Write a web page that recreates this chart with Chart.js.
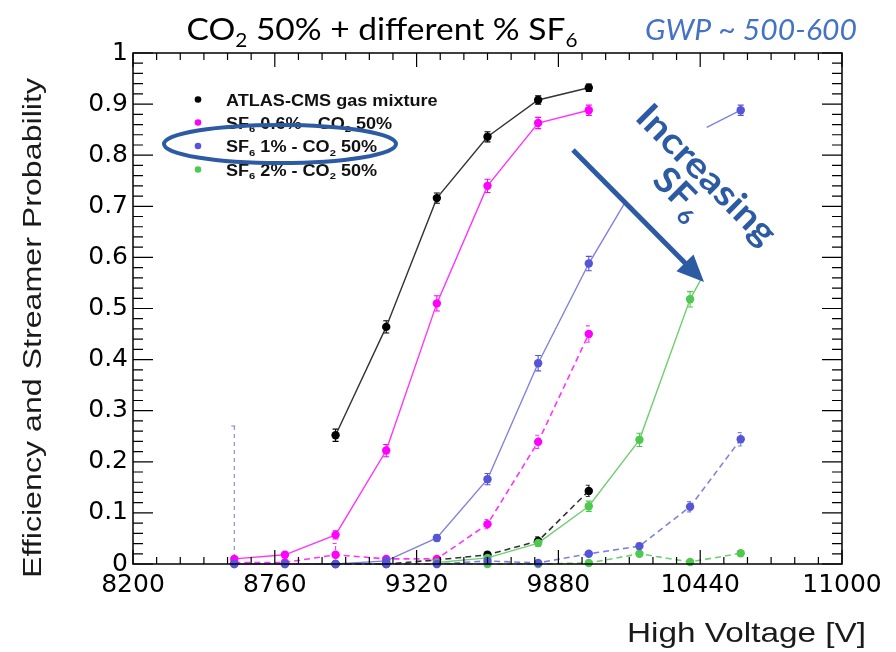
<!DOCTYPE html>
<html>
<head>
<meta charset="utf-8">
<script src="https://cdn.jsdelivr.net/npm/chart.js@4.4.1/dist/chart.umd.min.js"></script>
<style>
  html, body { margin: 0; padding: 0; background: #ffffff; }
  canvas { display: block; }
</style>
</head>
<body>
<canvas id="c" width="896" height="652"></canvas>
<script>
// ---- data -------------------------------------------------------------
const voltages = [8600, 8800, 9000, 9200, 9400, 9600, 9800, 10000, 10200, 10400, 10600];

// efficiency (solid) and streamer probability (dashed) per gas mixture
const atlasEff       = [null, null, 0.252, 0.464, 0.716, 0.836, 0.908, 0.932, null, null, null];
const atlasEffErr    = [null, null, 0.012, 0.012, 0.010, 0.010, 0.008, 0.007, null, null, null];
const atlasStr       = [null, null, 0.000, 0.000, 0.008, 0.018, 0.045, 0.143, null, null, null];
const atlasStrErr    = [null, null, 0.002, 0.002, 0.004, 0.006, 0.008, 0.011, null, null, null];

const sf06Eff        = [0.010, 0.018, 0.057, 0.222, 0.510, 0.740, 0.863, 0.888, null, null, null];
const sf06EffErr     = [0.004, 0.005, 0.008, 0.012, 0.015, 0.013, 0.011, 0.010, null, null, null];
const sf06Str        = [0.003, 0.003, 0.018, 0.010, 0.010, 0.078, 0.239, 0.450, null, null, null];
const sf06StrErr     = [0.003, 0.003, 0.022, 0.004, 0.004, 0.009, 0.013, 0.016, null, null, null];

const sf1Eff         = [0.000, 0.000, 0.000, 0.006, 0.051, 0.166, 0.393, 0.588, 0.755, 0.838, 0.888];
const sf1EffErr      = [0.002, 0.002, 0.002, 0.003, 0.006, 0.011, 0.015, 0.014, 0.013, 0.011, 0.010];
const sf1Str         = [0.000, 0.000, 0.000, 0.000, 0.000, 0.006, 0.002, 0.020, 0.035, 0.112, 0.244];
const sf1StrErr      = [0.270, 0.002, 0.002, 0.002, 0.002, 0.003, 0.002, 0.004, 0.006, 0.010, 0.013];

const sf2Eff         = [null, null, null, null, 0.003, 0.012, 0.041, 0.113, 0.243, 0.518, 0.700];
const sf2EffErr      = [null, null, null, null, 0.002, 0.003, 0.006, 0.010, 0.013, 0.015, 0.014];
const sf2Str         = [null, null, null, null, 0.000, 0.000, 0.000, 0.002, 0.020, 0.004, 0.021];
const sf2StrErr      = [null, null, null, null, 0.002, 0.002, 0.002, 0.002, 0.004, 0.003, 0.004];

const xTickValues = [8200, 8760, 9320, 9880, 10440, 11000];
const yTickValues = [0, 0.1, 0.2, 0.3, 0.4, 0.5, 0.6, 0.7, 0.8, 0.9, 1];

const seriesNames = ['ATLAS-CMS gas mixture', 'SF₆ 0.6% - CO₂ 50%', 'SF₆ 1% - CO₂ 50%', 'SF₆ 2% - CO₂ 50%'];
const chartTitle  = 'CO₂ 50% + different % SF₆';
const gwpNote     = 'GWP ~ 500-600';
const trendNote   = ['Increasing', 'SF₆'];
const xAxisTitle  = 'High Voltage [V]';
const yAxisTitle  = 'Efficiency and Streamer Probability';

// ---- styling ----------------------------------------------------------
const markerColors = ['#000000', '#ff00ff', '#5555d8', '#4fc84f'];
const lineColors   = ['#333333', '#ff33ff', '#8080e0', '#70cf70'];
const noteBlue     = '#2c5aa3';

// ---- helpers ----------------------------------------------------------
function toPoints(vals, errs) {
  const out = [];
  voltages.forEach((v, i) => {
    if (vals[i] !== null) out.push({ x: v, y: vals[i], e: errs[i] });
  });
  return out;
}

function makeSet(idx, vals, errs, dashed, order) {
  return {
    label: seriesNames[idx] + (dashed ? ' (streamer)' : ''),
    data: toPoints(vals, errs),
    borderColor: lineColors[idx],
    backgroundColor: markerColors[idx],
    pointBackgroundColor: markerColors[idx],
    pointBorderColor: markerColors[idx],
    pointBorderWidth: 0,
    pointRadius: 4.2,
    borderWidth: dashed ? 1.6 : 1.4,
    borderDash: dashed ? [6, 4] : [],
    tension: 0,
    clip: false,
    order: order,
    seriesIndex: idx,
    isStreamer: dashed
  };
}

// split text into runs, turning subscript digits into lowered small runs
const SUBS = '₀₁₂₃₄₅₆₇₈₉';
function splitRuns(str) {
  const runs = [];
  for (const ch of str) {
    const k = SUBS.indexOf(ch);
    const sub = k >= 0;
    const c = sub ? String(k) : ch;
    if (runs.length && runs[runs.length - 1].sub === sub) runs[runs.length - 1].t += c;
    else runs.push({ t: c, sub: sub });
  }
  return runs;
}

function richText(ctx, str, x, y, o) {
  const runs = splitRuns(str);
  const fontFor = (sub) => `${o.style || 'normal'} ${o.weight || 'normal'} ${sub ? o.size * 0.62 : o.size}px ${o.family}`;
  let w = 0;
  runs.forEach(r => { ctx.font = fontFor(r.sub); r.w = ctx.measureText(r.t).width; w += r.w; });
  ctx.save();
  ctx.translate(x, y);
  if (o.rotate) ctx.rotate(o.rotate);
  const sx = o.width ? o.width / w : (o.scaleX || 1);
  ctx.scale(sx, 1);
  let cx = o.align === 'center' ? -w / 2 : o.align === 'right' ? -w : 0;
  ctx.fillStyle = o.color || '#000';
  ctx.textBaseline = 'alphabetic';
  runs.forEach(r => {
    ctx.font = fontFor(r.sub);
    ctx.fillText(r.t, cx, r.sub ? o.size * 0.22 : 0);
    cx += r.w;
  });
  ctx.restore();
}

// ---- plugins ----------------------------------------------------------
const errorBars = {
  id: 'errorBars',
  beforeDatasetsDraw(chart) {
    const { ctx, chartArea: a, scales: { y } } = chart;
    ctx.save();
    ctx.beginPath();
    ctx.rect(a.left, a.top, a.right - a.left, a.bottom - a.top + 2);
    ctx.clip();
    chart.data.datasets.forEach((ds, di) => {
      const meta = chart.getDatasetMeta(di);
      ctx.strokeStyle = ds.isStreamer ? lineColors[ds.seriesIndex] : markerColors[ds.seriesIndex];
      ctx.lineWidth = 1.1;
      ctx.setLineDash(ds.isStreamer ? [4, 4] : []);
      meta.data.forEach((pt, i) => {
        const e = ds.data[i].e;
        if (!e) return;
        const y1 = y.getPixelForValue(ds.data[i].y + e);
        const y0 = y.getPixelForValue(ds.data[i].y - e);
        ctx.beginPath();
        ctx.moveTo(pt.x, y0); ctx.lineTo(pt.x, y1);
        ctx.moveTo(pt.x - 3, y1); ctx.lineTo(pt.x + 3, y1);
        ctx.moveTo(pt.x - 3, y0); ctx.lineTo(pt.x + 3, y0);
        ctx.stroke();
      });
    });
    ctx.restore();
  }
};

const frameAndTicks = {
  id: 'frameAndTicks',
  afterDatasetsDraw(chart) {
    const { ctx, chartArea: a, scales: { x, y } } = chart;
    ctx.save();
    ctx.strokeStyle = '#000';
    ctx.lineWidth = 1.5;
    ctx.setLineDash([]);
    ctx.strokeRect(a.left, a.top, a.right - a.left, a.bottom - a.top);
    ctx.lineWidth = 1.2;
    ctx.beginPath();
    // horizontal axes: 6 subdivisions between labelled ticks
    for (let k = 0; k < xTickValues.length - 1; k++) {
      const v0 = xTickValues[k], step = (xTickValues[k + 1] - v0) / 6;
      for (let j = 0; j <= 6; j++) {
        const px = x.getPixelForValue(v0 + j * step);
        const len = (j === 0 || j === 6) ? 14 : 7;
        ctx.moveTo(px, a.bottom); ctx.lineTo(px, a.bottom - len);
        ctx.moveTo(px, a.top); ctx.lineTo(px, a.top + len);
      }
    }
    // vertical axes: 5 subdivisions between labelled ticks
    for (let k = 0; k < yTickValues.length - 1; k++) {
      const v0 = yTickValues[k], step = (yTickValues[k + 1] - v0) / 5;
      for (let j = 0; j <= 5; j++) {
        const py = y.getPixelForValue(v0 + j * step);
        const len = (j === 0 || j === 5) ? 20 : 10;
        ctx.moveTo(a.left, py); ctx.lineTo(a.left + len, py);
        ctx.moveTo(a.right, py); ctx.lineTo(a.right - len, py);
      }
    }
    ctx.stroke();
    ctx.restore();
  }
};

const annotations = {
  id: 'annotations',
  afterDraw(chart) {
    const { ctx } = chart;
    ctx.save();

    // legend of the four gas mixtures
    const legendY = [99.5, 122.5, 146, 169.5];
    seriesNames.forEach((name, i) => {
      ctx.fillStyle = markerColors[i];
      ctx.beginPath();
      ctx.arc(198, legendY[i], 3.3, 0, Math.PI * 2);
      ctx.fill();
      richText(ctx, name, 226, legendY[i] + 6, {
        size: 16, family: '"Liberation Sans", Arial, sans-serif', weight: 'bold',
        color: '#111', scaleX: 1.13
      });
    });

    // highlight ring around the 1% entry
    ctx.strokeStyle = noteBlue;
    ctx.lineWidth = 4;
    ctx.beginPath();
    ctx.ellipse(280, 144, 116, 19, 0, 0, Math.PI * 2);
    ctx.stroke();

    // "Increasing SF6" note on a white patch, rotated along the arrow
    const cx = 698, cy = 171, ang = Math.PI / 4;
    ctx.save();
    ctx.translate(cx, cy);
    ctx.rotate(ang);
    ctx.fillStyle = '#ffffff';
    ctx.fillRect(-108, -37, 216, 111);
    ctx.restore();
    richText(ctx, trendNote[0], cx, cy + 12, {
      size: 36, family: 'Lato, "Open Sans", sans-serif', weight: 'bold',
      color: noteBlue, align: 'center', rotate: ang, width: 182
    });
    // second line sits one line-height below, along the text normal
    const nx = -Math.sin(ang), ny = Math.cos(ang);
    richText(ctx, trendNote[1], cx + nx * 41 + 2 * Math.cos(ang), cy + ny * 41 + 2 * Math.sin(ang), {
      size: 36, family: 'Lato, "Open Sans", sans-serif', weight: 'bold',
      color: noteBlue, align: 'center', rotate: ang, scaleX: 1.05
    });

    // arrow
    const x0 = 573, y0 = 150, x1 = 704, y1 = 282;
    const L = Math.hypot(x1 - x0, y1 - y0), ux = (x1 - x0) / L, uy = (y1 - y0) / L;
    const hl = 27, hw = 12;
    ctx.strokeStyle = noteBlue;
    ctx.lineWidth = 5;
    ctx.beginPath();
    ctx.moveTo(x0, y0);
    ctx.lineTo(x1 - ux * hl * 0.8, y1 - uy * hl * 0.8);
    ctx.stroke();
    ctx.fillStyle = noteBlue;
    ctx.beginPath();
    ctx.moveTo(x1, y1);
    ctx.lineTo(x1 - ux * hl - uy * hw, y1 - uy * hl + ux * hw);
    ctx.lineTo(x1 - ux * hl + uy * hw, y1 - uy * hl - ux * hw);
    ctx.closePath();
    ctx.fill();

    // headline and GWP note
    richText(ctx, chartTitle, 382, 40, {
      size: 31, family: 'Lato, "Open Sans", sans-serif', color: '#000', align: 'center', width: 391
    });
    richText(ctx, gwpNote, 751, 40, {
      size: 29, family: 'Lato, "Open Sans", sans-serif', style: 'italic',
      color: '#4472c4', align: 'center', width: 212
    });

    // axis titles
    richText(ctx, xAxisTitle, 866, 642, {
      size: 28, family: '"Liberation Sans", Arial, sans-serif', color: '#1a1a1a', align: 'right', width: 239
    });
    richText(ctx, yAxisTitle, 41, 328, {
      size: 26, family: '"Liberation Sans", Arial, sans-serif', color: '#1a1a1a', align: 'center',
      rotate: -Math.PI / 2, width: 500
    });

    ctx.restore();
  }
};

// ---- chart ------------------------------------------------------------
const datasets = [
  makeSet(0, atlasEff, atlasEffErr, false, 8),
  makeSet(0, atlasStr, atlasStrErr, true, 7),
  makeSet(1, sf06Eff, sf06EffErr, false, 6),
  makeSet(1, sf06Str, sf06StrErr, true, 5),
  makeSet(3, sf2Eff, sf2EffErr, false, 4),
  makeSet(3, sf2Str, sf2StrErr, true, 3),
  makeSet(2, sf1Eff, sf1EffErr, false, 1),
  makeSet(2, sf1Str, sf1StrErr, true, 2)
];

const tickFont = { family: '"DejaVu Sans", sans-serif', size: 25 };

new Chart(document.getElementById('c'), {
  type: 'line',
  data: { datasets },
  options: {
    responsive: false,
    animation: false,
    devicePixelRatio: 1,
    layout: { padding: { left: 0, top: 53, right: 54, bottom: 0 } },
    plugins: { legend: { display: false }, tooltip: { enabled: false } },
    scales: {
      x: {
        type: 'linear',
        min: xTickValues[0],
        max: xTickValues[xTickValues.length - 1],
        afterBuildTicks: s => { s.ticks = xTickValues.map(v => ({ value: v })); },
        afterFit: s => { s.height = 88; },
        grid: { display: false, drawTicks: false },
        border: { display: false },
        ticks: {
          font: tickFont, color: '#000', padding: 6,
          maxRotation: 0, minRotation: 0, autoSkip: false,
          callback: v => String(v)
        }
      },
      y: {
        type: 'linear',
        min: 0,
        max: 1,
        afterBuildTicks: s => { s.ticks = yTickValues.map(v => ({ value: v })); },
        afterFit: s => { s.width = 133; },
        grid: { display: false, drawTicks: false },
        border: { display: false },
        ticks: {
          font: tickFont, color: '#000', padding: 5, autoSkip: false,
          callback: v => (v === 0 || v === 1) ? String(v) : v.toFixed(1)
        }
      }
    }
  },
  plugins: [errorBars, frameAndTicks, annotations]
});
</script>
</body>
</html>
